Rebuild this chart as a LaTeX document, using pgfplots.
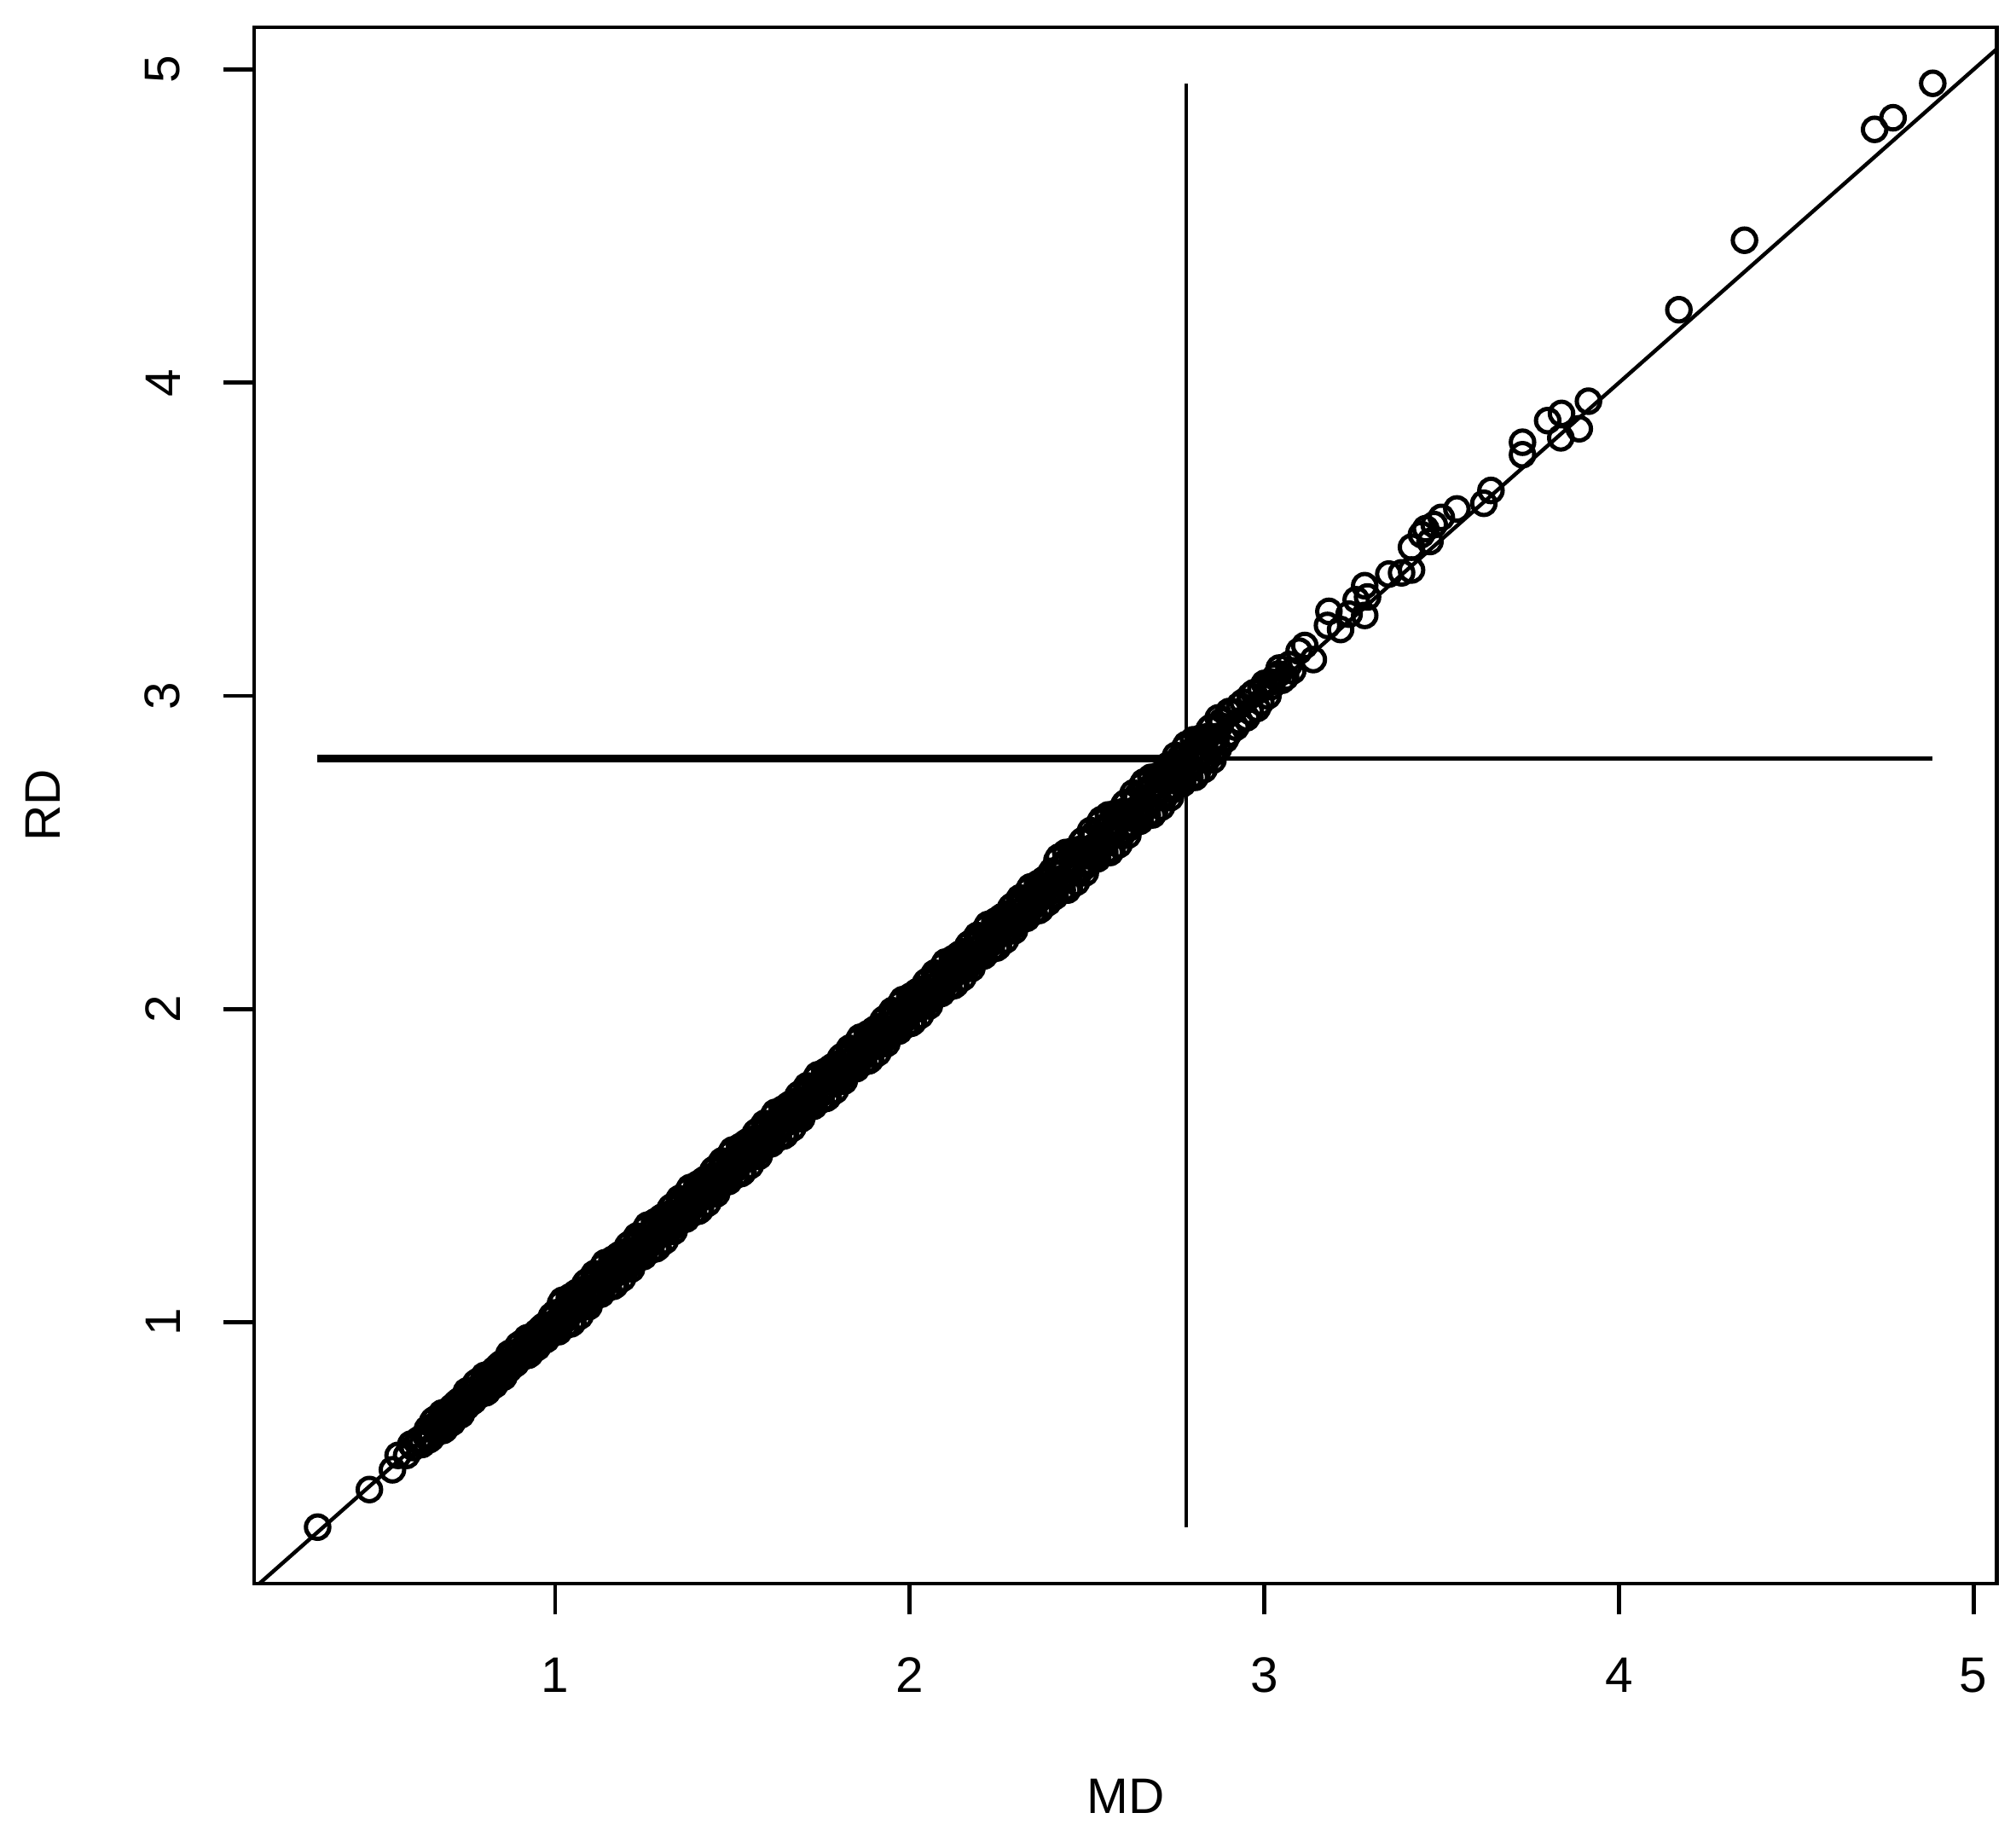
\documentclass[border=0pt]{standalone}
\usepackage{fontspec}
\setmainfont{Liberation Sans}
\usepackage{pgfplots}
\usepackage{pgfplotstable}
\pgfplotsset{compat=1.18}

% MD vs RD, one row per observation
\pgfplotstableread{
x y
0.330 0.346
0.476 0.466
0.541 0.529
0.557 0.575
0.581 0.575
0.593 0.611
0.600 0.600
0.615 0.625
0.625 0.610
0.637 0.634
0.64 0.66
0.65 0.63
0.66 0.67
0.67 0.66
0.68 0.71
0.69 0.66
0.70 0.70
0.71 0.73
0.72 0.70
0.73 0.75
0.74 0.73
0.75 0.73
0.76 0.78
0.77 0.75
0.78 0.79
0.79 0.78
0.80 0.83
0.81 0.78
0.82 0.82
0.83 0.85
0.84 0.82
0.85 0.87
0.86 0.85
0.87 0.85
0.88 0.90
0.89 0.87
0.90 0.91
0.91 0.90
0.92 0.95
0.93 0.90
0.94 0.94
0.95 0.97
0.96 0.94
0.97 0.99
0.98 0.97
0.99 0.97
1.00 1.03
1.01 0.97
1.02 1.03
1.03 1.01
1.04 1.08
1.05 1.00
1.06 1.06
1.07 1.09
1.08 1.05
1.09 1.13
1.10 1.09
1.11 1.08
1.12 1.15
1.13 1.09
1.14 1.15
1.15 1.13
1.16 1.20
1.17 1.12
1.18 1.18
1.19 1.21
1.20 1.17
1.21 1.25
1.22 1.21
1.23 1.20
1.24 1.27
1.25 1.21
1.26 1.27
1.27 1.25
1.28 1.32
1.29 1.24
1.30 1.30
1.31 1.33
1.32 1.29
1.33 1.37
1.34 1.33
1.35 1.32
1.36 1.39
1.37 1.33
1.38 1.39
1.39 1.37
1.40 1.44
1.41 1.36
1.42 1.42
1.43 1.45
1.44 1.41
1.45 1.49
1.46 1.45
1.47 1.44
1.48 1.51
1.49 1.45
1.50 1.51
1.51 1.49
1.52 1.56
1.53 1.48
1.54 1.54
1.55 1.57
1.56 1.53
1.57 1.61
1.58 1.57
1.59 1.56
1.60 1.63
1.61 1.57
1.62 1.63
1.63 1.61
1.64 1.68
1.65 1.60
1.66 1.66
1.67 1.69
1.68 1.65
1.69 1.73
1.70 1.69
1.71 1.68
1.72 1.75
1.73 1.69
1.74 1.75
1.75 1.73
1.76 1.80
1.77 1.72
1.78 1.78
1.79 1.81
1.80 1.77
1.81 1.85
1.82 1.81
1.83 1.80
1.84 1.87
1.85 1.81
1.86 1.87
1.87 1.85
1.88 1.92
1.89 1.84
1.90 1.90
1.91 1.93
1.92 1.89
1.93 1.97
1.94 1.93
1.95 1.92
1.96 1.99
1.97 1.93
1.98 1.99
1.99 1.97
2.00 2.04
2.01 1.96
2.02 2.02
2.03 2.05
2.04 2.01
2.05 2.09
2.06 2.05
2.07 2.04
2.08 2.11
2.09 2.05
2.10 2.11
2.11 2.09
2.12 2.16
2.13 2.08
2.14 2.14
2.15 2.17
2.16 2.13
2.17 2.21
2.18 2.17
2.19 2.16
2.20 2.23
2.21 2.17
2.22 2.23
2.23 2.21
2.24 2.28
2.25 2.20
2.26 2.26
2.27 2.29
2.28 2.25
2.29 2.33
2.30 2.29
2.31 2.28
2.32 2.35
2.33 2.29
2.34 2.35
2.35 2.33
2.36 2.40
2.37 2.32
2.38 2.38
2.39 2.41
2.40 2.44
2.41 2.36
2.42 2.43
2.43 2.41
2.44 2.50
2.45 2.39
2.46 2.46
2.47 2.50
2.48 2.44
2.49 2.54
2.50 2.49
2.51 2.47
2.52 2.56
2.53 2.48
2.54 2.55
2.55 2.53
2.56 2.62
2.57 2.51
2.58 2.58
2.59 2.62
2.60 2.56
2.61 2.66
2.62 2.61
2.63 2.59
2.64 2.68
2.65 2.60
2.66 2.67
2.67 2.65
2.68 2.74
2.69 2.63
2.70 2.70
2.71 2.74
2.72 2.68
2.73 2.78
2.74 2.73
2.75 2.71
2.76 2.80
2.77 2.72
2.78 2.79
2.79 2.77
2.80 2.86
2.81 2.75
2.82 2.82
2.83 2.86
2.84 2.80
2.85 2.90
2.86 2.85
2.87 2.83
2.88 2.92
2.90 2.88
2.91 2.95
2.93 2.92
2.94 2.98
2.96 2.95
2.97 3.01
2.99 2.98
3.00 3.04
3.018 3.044
3.02 3.03
3.042 3.089
3.04 3.07
3.06 3.06
3.098 3.143
3.114 3.161
3.138 3.116
3.178 3.225
3.182 3.270
3.215 3.212
3.239 3.261
3.259 3.307
3.283 3.352
3.291 3.316
3.283 3.257
3.351 3.389
3.387 3.393
3.415 3.402
3.415 3.475
3.443 3.515
3.455 3.534
3.467 3.493
3.479 3.547
3.499 3.570
3.543 3.597
3.619 3.615
3.639 3.656
3.728 3.770
3.728 3.810
3.799 3.879
3.836 3.824
3.838 3.902
3.888 3.853
3.914 3.941
4.169 4.233
4.354 4.455
4.721 4.809
4.773 4.846
4.885 4.956
0.645 0.625
0.655 0.685
0.665 0.655
0.675 0.685
0.685 0.655
0.695 0.715
0.705 0.715
0.715 0.705
0.725 0.745
0.735 0.705
0.745 0.745
0.755 0.775
0.765 0.745
0.775 0.805
0.785 0.775
0.795 0.805
0.805 0.775
0.815 0.835
0.825 0.835
0.835 0.825
0.845 0.865
0.855 0.825
0.865 0.865
0.875 0.895
0.885 0.865
0.895 0.925
0.905 0.895
0.915 0.925
0.925 0.895
0.935 0.955
0.945 0.955
0.955 0.945
0.965 0.985
0.975 0.945
0.985 0.985
0.995 1.015
1.005 0.975
1.015 1.060
1.025 1.015
1.035 1.055
1.045 0.995
1.055 1.090
1.065 1.075
1.075 1.055
1.085 1.125
1.095 1.050
1.105 1.110
1.115 1.140
1.125 1.095
1.135 1.180
1.145 1.135
1.155 1.175
1.165 1.115
1.175 1.210
1.185 1.195
1.195 1.175
1.205 1.245
1.215 1.170
1.225 1.230
1.235 1.260
1.245 1.215
1.255 1.300
1.265 1.255
1.275 1.295
1.285 1.235
1.295 1.330
1.305 1.315
1.315 1.295
1.325 1.365
1.335 1.290
1.345 1.350
1.355 1.380
1.365 1.335
1.375 1.420
1.385 1.375
1.395 1.415
1.405 1.355
1.415 1.450
1.425 1.435
1.435 1.415
1.445 1.485
1.455 1.410
1.465 1.470
1.475 1.500
1.485 1.455
1.495 1.540
1.505 1.495
1.515 1.535
1.525 1.475
1.535 1.570
1.545 1.555
1.555 1.535
1.565 1.605
1.575 1.530
1.585 1.590
1.595 1.620
1.605 1.575
1.615 1.660
1.625 1.615
1.635 1.655
1.645 1.595
1.655 1.690
1.665 1.675
1.675 1.655
1.685 1.725
1.695 1.650
1.705 1.710
1.715 1.740
1.725 1.695
1.735 1.780
1.745 1.735
1.755 1.775
1.765 1.715
1.775 1.810
1.785 1.795
1.795 1.775
1.805 1.845
1.815 1.770
1.825 1.830
1.835 1.860
1.845 1.815
1.855 1.900
1.865 1.855
1.875 1.895
1.885 1.835
1.895 1.930
1.905 1.915
1.915 1.895
1.925 1.965
1.935 1.890
1.945 1.950
1.955 1.980
1.965 1.935
1.975 2.020
1.985 1.975
1.995 2.015
2.005 1.955
2.015 2.050
2.025 2.035
2.035 2.015
2.045 2.085
2.055 2.010
2.065 2.070
2.075 2.100
2.085 2.055
2.095 2.140
2.105 2.095
2.115 2.135
2.125 2.075
2.135 2.170
2.145 2.155
2.155 2.135
2.165 2.205
2.175 2.130
2.185 2.190
2.195 2.220
2.205 2.175
2.215 2.260
2.225 2.215
2.235 2.255
2.245 2.195
2.255 2.290
2.265 2.275
2.275 2.255
2.285 2.325
2.295 2.250
2.305 2.310
2.315 2.340
2.325 2.295
2.335 2.380
2.345 2.335
2.355 2.375
2.365 2.315
2.375 2.410
2.385 2.395
2.395 2.375
2.405 2.365
2.415 2.475
2.425 2.415
2.435 2.465
2.445 2.380
2.455 2.500
2.465 2.475
2.475 2.445
2.485 2.535
2.495 2.435
2.505 2.510
2.515 2.545
2.525 2.485
2.535 2.595
2.545 2.535
2.555 2.585
2.565 2.500
2.575 2.620
2.585 2.595
2.595 2.565
2.605 2.655
2.615 2.555
2.625 2.630
2.635 2.665
2.645 2.605
2.655 2.715
2.665 2.655
2.675 2.705
2.685 2.620
2.695 2.740
2.705 2.715
2.715 2.685
2.725 2.775
2.735 2.675
2.745 2.750
2.755 2.785
2.765 2.725
2.775 2.835
2.785 2.775
2.795 2.825
2.805 2.740
2.815 2.860
2.825 2.835
2.835 2.805
2.845 2.895
2.855 2.795
2.865 2.870
2.875 2.905
0.64 0.64
0.65 0.63
0.66 0.69
0.67 0.65
0.68 0.69
0.69 0.68
0.70 0.72
0.71 0.68
0.72 0.74
0.73 0.73
0.74 0.72
0.75 0.78
0.76 0.76
0.77 0.75
0.78 0.81
0.79 0.77
0.80 0.81
0.81 0.80
0.82 0.84
0.83 0.80
0.84 0.86
0.85 0.85
0.86 0.84
0.87 0.90
0.88 0.88
0.89 0.87
0.90 0.93
0.91 0.89
0.92 0.93
0.93 0.92
0.94 0.96
0.95 0.92
0.96 0.98
0.97 0.97
0.98 0.96
0.99 1.02
1.00 1.000
1.01 0.985
1.02 1.070
1.03 0.990
1.04 1.055
1.05 1.035
1.06 1.095
1.07 1.020
1.08 1.105
1.09 1.095
1.10 1.070
1.11 1.155
1.12 1.120
1.13 1.105
1.14 1.190
1.15 1.110
1.16 1.175
1.17 1.155
1.18 1.215
1.19 1.140
1.20 1.225
1.21 1.215
1.22 1.190
1.23 1.275
1.24 1.240
1.25 1.225
1.26 1.310
1.27 1.230
1.28 1.295
1.29 1.275
1.30 1.335
1.31 1.260
1.32 1.345
1.33 1.335
1.34 1.310
1.35 1.395
1.36 1.360
1.37 1.345
1.38 1.430
1.39 1.350
1.40 1.415
1.41 1.395
1.42 1.455
1.43 1.380
1.44 1.465
1.45 1.455
1.46 1.430
1.47 1.515
1.48 1.480
1.49 1.465
1.50 1.550
1.51 1.470
1.52 1.535
1.53 1.515
1.54 1.575
1.55 1.500
1.56 1.585
1.57 1.575
1.58 1.550
1.59 1.635
1.60 1.600
1.61 1.585
1.62 1.670
1.63 1.590
1.64 1.655
1.65 1.635
1.66 1.695
1.67 1.620
1.68 1.705
1.69 1.695
1.70 1.670
1.71 1.755
1.72 1.720
1.73 1.705
1.74 1.790
1.75 1.710
1.76 1.775
1.77 1.755
1.78 1.815
1.79 1.740
1.80 1.825
1.81 1.815
1.82 1.790
1.83 1.875
1.84 1.840
1.85 1.825
1.86 1.910
1.87 1.830
1.88 1.895
1.89 1.875
1.90 1.935
1.91 1.860
1.92 1.945
1.93 1.935
1.94 1.910
1.95 1.995
1.96 1.960
1.97 1.945
1.98 2.030
1.99 1.950
2.00 2.015
2.01 1.995
2.02 2.055
2.03 1.980
2.04 2.065
2.05 2.055
2.06 2.030
2.07 2.115
2.08 2.080
2.09 2.065
2.10 2.150
2.11 2.070
2.12 2.135
2.13 2.115
2.14 2.175
2.15 2.100
2.16 2.185
2.17 2.175
2.18 2.150
2.19 2.235
2.20 2.200
2.21 2.185
2.22 2.270
2.23 2.190
2.24 2.255
2.25 2.235
2.26 2.295
2.27 2.220
2.28 2.305
2.29 2.295
2.30 2.270
2.31 2.355
2.32 2.320
2.33 2.305
2.34 2.390
2.35 2.310
2.36 2.375
2.37 2.355
2.38 2.415
2.39 2.340
2.40 2.400
2.41 2.380
2.42 2.485
2.43 2.380
2.44 2.460
2.45 2.430
2.46 2.505
2.47 2.405
2.48 2.510
2.49 2.495
2.50 2.460
2.51 2.570
2.52 2.520
2.53 2.500
2.54 2.605
2.55 2.500
2.56 2.580
2.57 2.550
2.58 2.625
2.59 2.525
2.60 2.630
2.61 2.615
2.62 2.580
2.63 2.690
2.64 2.640
2.65 2.620
2.66 2.725
2.67 2.620
2.68 2.700
2.69 2.670
2.70 2.745
2.71 2.645
2.72 2.750
2.73 2.735
2.74 2.700
2.75 2.810
2.76 2.760
2.77 2.740
2.78 2.845
2.79 2.740
2.80 2.820
2.81 2.790
2.82 2.865
2.83 2.765
2.84 2.870
2.85 2.855
2.86 2.820
2.87 2.930
2.89 2.86
2.90 2.95
2.92 2.90
2.93 2.97
2.95 2.93
2.96 3.00
2.98 2.96
2.99 3.02
3.01 3.00
3.03 3.06
3.05 3.05
3.07 3.10
3.08 3.08
}\mdrd

\begin{document}
\begin{tikzpicture}
\begin{axis}[
    width=13.625cm, height=12.167cm, scale only axis,
    xmin=0.151, xmax=5.066, ymin=0.166, ymax=5.135,
    xtick={1,2,3,4,5}, ytick={1,2,3,4,5},
    xtick pos=left, ytick pos=left,
    tick align=outside,
    major tick length=6.85pt,
    tick style={line width=0.9pt, black},
    axis line style={line width=0.9pt},
    font=\fontsize{11.1}{13}\selectfont,
    /pgf/number format/assume math mode=true,
    xticklabel style={anchor=north, inner sep=0pt},
    yticklabel style={rotate=90, anchor=south, inner sep=0pt},
    xticklabel shift=9.45pt, yticklabel shift=9.45pt,
    xlabel={MD}, ylabel={RD},
    xlabel style={at={(axis description cs:0.5,0)}, anchor=center, yshift=-47.3pt},
    ylabel style={at={([xshift=-46.9pt]axis description cs:0,0.5)}, anchor=center},
]
\addplot[only marks, mark=o, mark size=2.6pt, mark options={line width=0.95pt}] table[x=x, y=y] {\mdrd};
\addplot[no marks, line width=0.85pt] coordinates {(0,0) (6,6)};
\addplot[no marks, line width=0.95pt] coordinates {(0.33,2.80) (4.885,2.80)};
\addplot[no marks, line width=1.7pt] coordinates {(0.33,2.80) (2.78,2.80)};
\addplot[no marks, line width=0.63pt] coordinates {(2.78,0.346) (2.78,4.956)};
\end{axis}
\path ([shift={(-1.987cm,-1.973cm)}]current axis.south west) rectangle ([shift={(0.149cm,0.213cm)}]current axis.north east);
\end{tikzpicture}
\end{document}
